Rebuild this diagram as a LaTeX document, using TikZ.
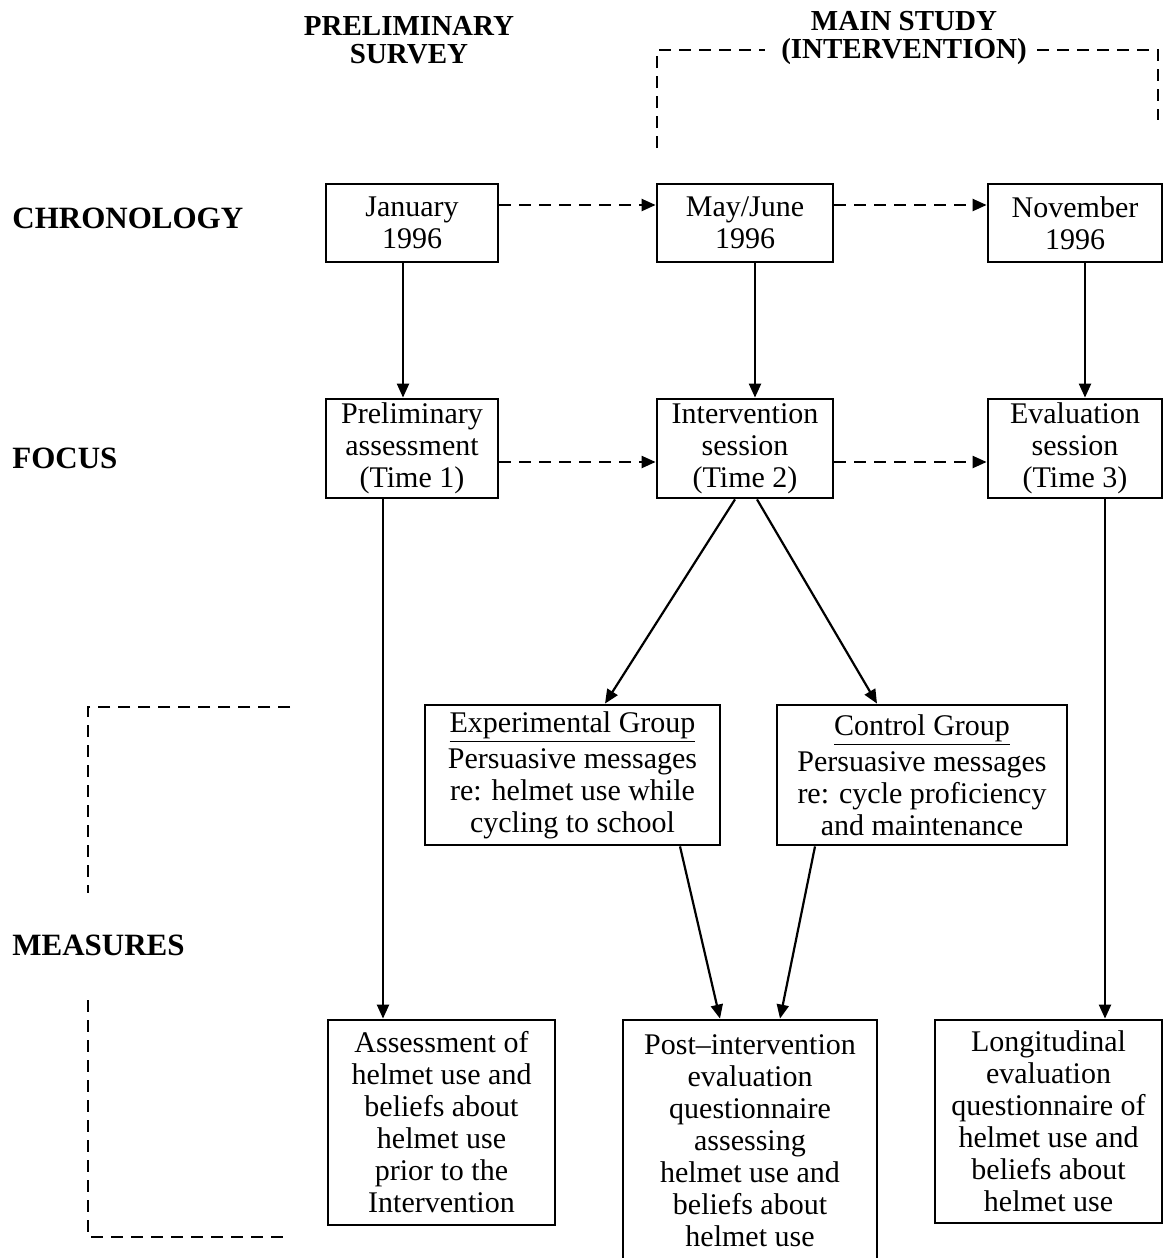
\documentclass[tikz,border=0pt]{standalone}
\usepackage{fontspec}
\setmainfont{Liberation Serif}
\usetikzlibrary{arrows.meta}
\begin{document}
\begin{tikzpicture}[x=0.5pt,y=-0.5pt,
  box/.style={draw, line width=1.4pt, align=center, inner sep=0pt,
    font=\fontsize{15pt}{16pt}\selectfont},
  head/.style={align=center, font=\fontsize{14.5pt}{14pt}\selectfont\bfseries},
  rowlabel/.style={anchor=west, inner sep=0pt, font=\fontsize{15.5pt}{16pt}\selectfont\bfseries},
  arr/.style={line width=1.1pt, -{Triangle[length=7pt,width=6pt]}},
  darr/.style={line width=1.1pt, dash pattern=on 6pt off 4pt, -{Triangle[length=7pt,width=6pt]}},
  dsh/.style={line width=0.9pt, dash pattern=on 6pt off 4pt}]
\useasboundingbox (0,0) rectangle (1169,1258);

% column headings
\node[head] (hpre) at (409,40) {PRELIMINARY\\SURVEY};
\node[head] (hmain) at (904,38) {MAIN STUDY\\(INTERVENTION)};
\draw[dsh] (657,148) -- (657,50) -- (765,50);
\draw[dsh] (1037,50) -- (1158,50) -- (1158,120);

% row labels
\node[rowlabel] (lchr) at (12,218) {CHRONOLOGY};
\node[rowlabel] (lfoc) at (12,458) {FOCUS};
\node[rowlabel] (lmea) at (12,945) {MEASURES};
\draw[dsh] (290,707) -- (88,707) -- (88,893);
\draw[dsh] (88,1000) -- (88,1237) -- (290,1237);

% chronology row
\node[box, minimum width=86pt, minimum height=39pt] (jan) at (412,223) {January\\1996};
\node[box, minimum width=88pt, minimum height=39pt] (may) at (745,223) {May/June\\1996};
\node[box, minimum width=87pt, minimum height=39pt] (nov) at (1075,223) {November\\1996};

% focus row
\node[box, minimum width=86pt, minimum height=49.5pt] (pre) at (412,448.5) {Preliminary\\assessment\\(Time 1)};
\node[box, minimum width=88pt, minimum height=49.5pt] (int) at (745,448.5) {Intervention\\session\\(Time 2)};
\node[box, minimum width=87pt, minimum height=49.5pt] (eva) at (1075,448.5) {Evaluation\\session\\(Time 3)};

% groups
\node[box, minimum width=147.5pt, minimum height=70pt] (exp) at (572.5,775)
  {\underline{Experimental Group}\\[2pt]Persuasive messages\\re: helmet use while\\cycling to school};
\node[box, minimum width=145pt, minimum height=70pt] (con) at (922,775)
  {\underline{Control Group}\\[2pt]Persuasive messages\\re: cycle proficiency\\and maintenance};

% measures row
\node[box, minimum width=113.5pt, minimum height=102.5pt] (ass) at (441.5,1122.5)
  {Assessment of\\helmet use and\\beliefs about\\helmet use\\prior to the\\Intervention};
\node[box, minimum width=127pt, minimum height=121pt] (post) at (750,1141)
  {Post--intervention\\evaluation\\questionnaire\\assessing\\helmet use and\\beliefs about\\helmet use};
\node[box, minimum width=113.5pt, minimum height=101.5pt] (lon) at (1048.5,1121.5)
  {Longitudinal\\evaluation\\questionnaire of\\helmet use and\\beliefs about\\helmet use};

% chronology sequence
\draw[darr] ([yshift=9pt]jan.east) -- ([yshift=9pt]may.west);
\draw[darr] ([yshift=9pt]may.east) -- ([yshift=9pt]nov.west);
\draw[darr] ([yshift=-6.75pt]pre.east) -- ([yshift=-6.75pt]int.west);
\draw[darr] ([yshift=-6.75pt]int.east) -- ([yshift=-6.75pt]eva.west);

% chronology to focus
\draw[arr] ([xshift=-4.5pt]jan.south) -- ([xshift=-4.5pt]pre.north);
\draw[arr] ([xshift=5pt]may.south) -- ([xshift=5pt]int.north);
\draw[arr] ([xshift=5pt]nov.south) -- ([xshift=5pt]eva.north);

% focus to groups and measures
\draw[arr] ([xshift=-14.5pt]pre.south) -- ([xshift=-29.25pt]ass.north);
\draw[arr] ([xshift=-5pt]int.south) -- ([xshift=16.25pt]exp.north);
\draw[arr] ([xshift=6pt]int.south) -- ([xshift=-22.5pt]con.north);
\draw[arr] ([xshift=53.75pt]exp.south) -- ([xshift=-15pt]post.north);
\draw[arr] ([xshift=-53.5pt]con.south) -- ([xshift=15pt]post.north);
\draw[arr] ([xshift=15pt]eva.south) -- ([xshift=28.25pt]lon.north);
\end{tikzpicture}
\end{document}
